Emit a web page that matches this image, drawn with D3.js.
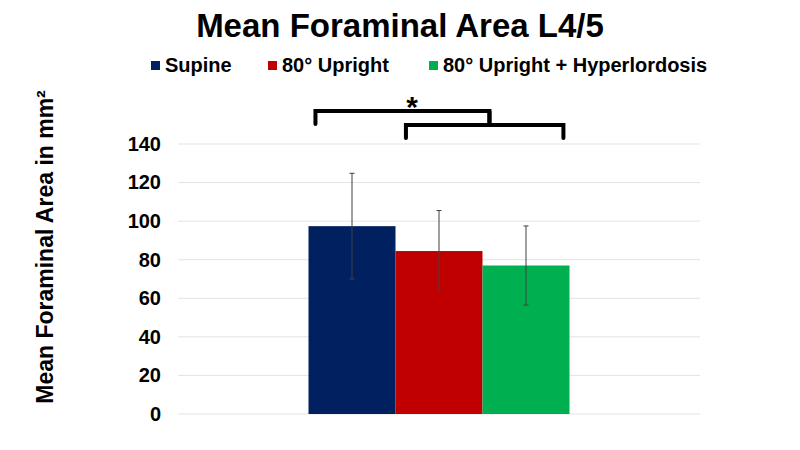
<!DOCTYPE html>
<html>
<head>
<meta charset="utf-8">
<script src="https://d3js.org/d3.v7.min.js"></script>
<style>
  body { margin: 0; background: #fff; }
  text { font-family: "Liberation Sans", Arial, sans-serif; font-weight: bold; }
</style>
</head>
<body>
<svg id="chart"></svg>
<script>
// Data
const groups = ["L4/5"];
const series = ["Supine", "80° Upright", "80° Upright + Hyperlordosis"];
const means = [97.4, 84.5, 77.0];
const sds = [27.4, 21.0, 20.5];
const colors = ["#002060", "#C00000", "#00B050"];
const yTicks = [0, 20, 40, 60, 80, 100, 120, 140];

const width = 800, height = 450;
const margin = { top: 144, right: 100, bottom: 36, left: 178 };

const svg = d3.select("#chart")
    .attr("width", width)
    .attr("height", height);

// Scales
const x0 = d3.scaleBand()
    .domain(groups)
    .range([margin.left, width - margin.right])
    .paddingInner(0)
    .paddingOuter(0.5);

const x1 = d3.scaleBand()
    .domain(series)
    .range([0, x0.bandwidth()]);

const y = d3.scaleLinear()
    .domain([0, 140])
    .range([height - margin.bottom, margin.top]);

// Gridlines
svg.append("g")
    .selectAll("line")
    .data(yTicks)
    .enter()
    .append("line")
    .attr("x1", margin.left)
    .attr("x2", width - margin.right)
    .attr("y1", d => y(d))
    .attr("y2", d => y(d))
    .attr("stroke", "#e3e3e3")
    .attr("stroke-width", 1);

// Y axis labels
const yAxis = svg.append("g")
    .attr("transform", `translate(${margin.left - 17},0)`)
    .call(d3.axisLeft(y).tickValues(yTicks).tickSize(0).tickPadding(0));
yAxis.select(".domain").remove();
yAxis.selectAll("text")
    .attr("font-size", 20)
    .attr("fill", "#000")
    .style("font-family", "'Liberation Sans', Arial, sans-serif")
    .style("font-weight", "bold");

// Bars
const g = svg.append("g")
    .attr("transform", `translate(${x0(groups[0])},0)`);

g.selectAll("rect")
    .data(series)
    .enter()
    .append("rect")
    .attr("x", d => x1(d))
    .attr("y", (d, i) => y(means[i]))
    .attr("width", x1.bandwidth())
    .attr("height", (d, i) => y(0) - y(means[i]))
    .attr("fill", (d, i) => colors[i]);

// Error bars
const err = g.selectAll("g.err")
    .data(series)
    .enter()
    .append("g")
    .attr("class", "err")
    .attr("stroke", "#404040")
    .attr("stroke-width", 1);
err.append("line")
    .attr("x1", d => x1(d) + x1.bandwidth() / 2)
    .attr("x2", d => x1(d) + x1.bandwidth() / 2)
    .attr("y1", (d, i) => y(means[i] + sds[i]))
    .attr("y2", (d, i) => y(means[i] - sds[i]));
err.append("line")
    .attr("x1", d => x1(d) + x1.bandwidth() / 2 - 2.5)
    .attr("x2", d => x1(d) + x1.bandwidth() / 2 + 2.5)
    .attr("y1", (d, i) => y(means[i] + sds[i]))
    .attr("y2", (d, i) => y(means[i] + sds[i]));
err.append("line")
    .attr("x1", d => x1(d) + x1.bandwidth() / 2 - 2.5)
    .attr("x2", d => x1(d) + x1.bandwidth() / 2 + 2.5)
    .attr("y1", (d, i) => y(means[i] - sds[i]))
    .attr("y2", (d, i) => y(means[i] - sds[i]));

// Significance brackets
const bw = x1.bandwidth();
const bx = (s, f) => x0(groups[0]) + x1(s) + f * bw;
const b1 = { x1: bx(series[0], 0.08), x2: bx(series[1], 1.08), top: 111, bottom: 124 };
const b2 = { x1: bx(series[1], 0.12), x2: bx(series[2], 0.93), top: 125, bottom: 138 };

[b1, b2].forEach(b => {
    svg.append("path")
        .attr("d", `M${b.x1},${b.bottom} L${b.x1},${b.top} L${b.x2},${b.top} L${b.x2},${b.bottom}`)
        .attr("fill", "none")
        .attr("stroke", "#000")
        .attr("stroke-width", 4)
        .attr("stroke-linecap", "round")
        .attr("stroke-linejoin", "miter");
});
svg.append("line")
    .attr("x1", b1.x2).attr("x2", b1.x2)
    .attr("y1", b1.top).attr("y2", b2.top)
    .attr("stroke", "#000")
    .attr("stroke-width", 4);

svg.append("text")
    .attr("x", 412)
    .attr("y", 117)
    .attr("text-anchor", "middle")
    .attr("font-size", 30)
    .text("*");

// Title
svg.append("text")
    .attr("x", 400)
    .attr("y", 37)
    .attr("text-anchor", "middle")
    .attr("font-size", 33)
    .text("Mean Foraminal Area L4/5");

// Legend
const legendX = [151, 268, 429];
const legend = svg.append("g")
    .selectAll("g")
    .data(series)
    .enter()
    .append("g")
    .attr("transform", (d, i) => `translate(${legendX[i]},65)`);
legend.append("rect")
    .attr("x", 0)
    .attr("y", -4)
    .attr("width", 9)
    .attr("height", 9)
    .attr("fill", (d, i) => colors[i]);
legend.append("text")
    .attr("x", 14)
    .attr("y", 0)
    .attr("dy", "0.35em")
    .attr("font-size", 20)
    .text(d => d);

// Y axis title
svg.append("text")
    .attr("transform", "translate(53,247) rotate(-90)")
    .attr("text-anchor", "middle")
    .attr("font-size", 23)
    .text("Mean Foraminal Area in mm²");
</script>
</body>
</html>
